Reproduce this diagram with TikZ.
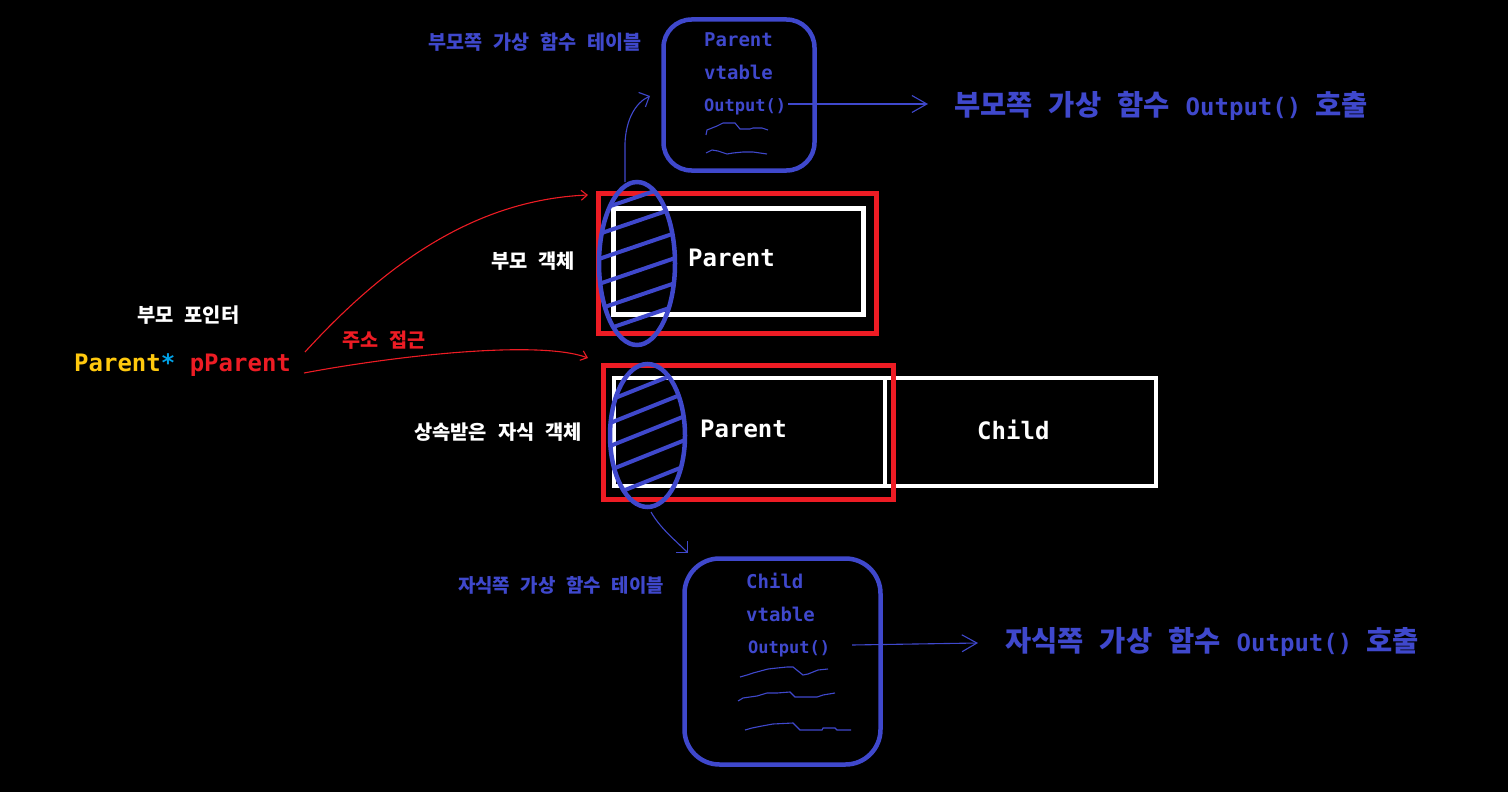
\documentclass[tikz,border=0pt]{standalone}
\usepackage{fontspec}
\usetikzlibrary{arrows.meta}
\newfontfamily\kr[WordSpace=2.45]{Noto Sans CJK KR}
\newfontfamily\mn{DejaVu Sans Mono}
\definecolor{vblue}{HTML}{3F48CC}
\definecolor{vred}{HTML}{ED1C24}
\definecolor{vyellow}{HTML}{FFC90E}
\definecolor{vcyan}{HTML}{00A2E8}
\newcommand{\fsz}[1]{\fontsize{#1}{#1}\selectfont\bfseries}
\begin{document}
\begin{tikzpicture}[x=1pt,y=-1pt,
  txt/.style={inner sep=0pt, anchor=base west},
  vtbox/.style={draw=vblue, line width=4.5pt, inner sep=0pt},
  redbox/.style={draw=vred, line width=4.5pt, inner sep=0pt},
  whitebox/.style={draw=white, line width=4.5pt, inner sep=0pt},
  ovl/.style={draw=vblue, line width=4.5pt},
  hatch/.style={draw=vblue, line width=4pt},
  thinblue/.style={draw=vblue, line width=1.1pt},
  thinred/.style={draw=vred, line width=1.1pt},
  bigbarb/.style={-{Straight Barb[length=15pt,width=17pt]}},
  smallbarb/.style={-{Straight Barb[length=8pt,width=16pt]}},
  redbarb/.style={-{Straight Barb[length=6pt,width=10pt]}}
]
\fill[black] (0,0) rectangle (1508,792);
\useasboundingbox (0,0) rectangle (1508,792);

% vtable boxes
\node[vtbox, rounded corners=28pt, minimum width=151pt, minimum height=151pt] (vt1) at (739,95) {};
\node[vtbox, rounded corners=35pt, minimum width=196pt, minimum height=206pt] (vt2) at (782.5,661.5) {};

% objects
\node[whitebox, minimum width=250pt, minimum height=106pt] (wb1) at (738.5,261.5) {};
\node[redbox, minimum width=278pt, minimum height=140pt] (rb1) at (737.5,263.5) {};
\node[whitebox, minimum width=542pt, minimum height=108pt] (wb2) at (885,432) {};
\draw[white, line width=4.5pt] (wb2.north) -- (wb2.south);
\node[redbox, minimum width=290pt, minimum height=134pt] (rb2) at (748.5,432.5) {};

% hatched ellipses
\coordinate (e1) at (637,263.5);
\coordinate (e2) at (647.5,435.5);
\begin{scope}
  \clip (e1) ellipse [x radius=38, y radius=81.5];
  \foreach \yy in {197,221,246,271,296,319}
    \draw[hatch] (577,\yy+20.4) -- (697,\yy-20.4);
\end{scope}
\draw[ovl] (e1) ellipse [x radius=38, y radius=81.5];
\begin{scope}
  \clip (e2) ellipse [x radius=37.5, y radius=71.5];
  \foreach \yy in {385,408,431,455,481}
    \draw[hatch] (587.5,\yy+24) -- (707.5,\yy-24);
\end{scope}
\draw[ovl] (e2) ellipse [x radius=37.5, y radius=71.5];

% texts
\node[txt, text=vblue] (lbl1) at (428,50) {\kr\fsz{19.6}부모쪽 가상 함수 테이블};
\node[txt, text=vblue] (p1) at (704,47) {\mn\fsz{19}Parent};
\node[txt, text=vblue] (v1) at (704,80) {\mn\fsz{19}vtable};
\node[txt, text=vblue] (o1) at (704,111) {\mn\fsz{17}Output()};
\node[txt, text=vblue] (call1) at (954,115) {{\kr\fsz{28.5}부모쪽 가상 함수 }{\mn\fsz{24}Output() }{\kr\fsz{28.5}호출}};

\node[txt, text=white] (objlbl1) at (491,268) {\kr\fsz{19.8}부모 객체};
\node[txt, text=white] (par1) at (688,266) {\mn\fsz{24}Parent};
\node[txt, text=white] (ptrlbl) at (137,322) {\kr\fsz{19.8}부모 포인터};
\node[txt] (ptr) at (74,371) {\mn\fsz{24}\textcolor{vyellow}{Parent}\textcolor{vcyan}{*} \textcolor{vred}{pParent}};
\node[txt, text=vred] (addr) at (342,347) {\kr\fsz{19.6}주소 접근};
\node[txt, text=white] (objlbl2) at (414,439) {\kr\fsz{19.8}상속받은 자식 객체};
\node[txt, text=white] (par2) at (700,437) {\mn\fsz{24}Parent};
\node[txt, text=white] (chd) at (977,439) {\mn\fsz{24}Child};

\node[txt, text=vblue] (lbl2) at (458,592) {\kr\fsz{18.9}자식쪽 가상 함수 테이블};
\node[txt, text=vblue] (c2) at (746,588) {\mn\fsz{19}Child};
\node[txt, text=vblue] (v2) at (746,621) {\mn\fsz{19}vtable};
\node[txt, text=vblue] (o2) at (748,653) {\mn\fsz{17}Output()};
\node[txt, text=vblue] (call2) at (1005,651) {{\kr\fsz{28.5}자식쪽 가상 함수 }{\mn\fsz{24}Output() }{\kr\fsz{28.5}호출}};

% output arrows
\coordinate (o1e) at (788,104);
\coordinate (t1) at (928,104);
\coordinate (o2e) at (852,645);
\coordinate (t2) at (978,643);
\draw[thinblue, bigbarb] (o1e) -- (t1);
\draw[thinblue, bigbarb] (o2e) -- (t2);

% squiggles
\draw[thinblue] (706,135) -- (707,130) -- (717,126) -- (723,123) -- (735,123) -- (740,129) -- (750,129) -- (753,128) -- (762,128) -- (768,130);
\draw[thinblue] (706,153) -- (712,150) -- (718,151) -- (727,154) -- (733,153) -- (743,152) -- (753,152) -- (767,154);
\draw[thinblue] (740,677) -- (747,675) -- (753,673) -- (768,669) -- (777,668) -- (787,667) -- (793,667) -- (798,671) -- (803,675) -- (808,674) -- (818,670) -- (828,669);
\draw[thinblue] (738,701) -- (743,698) -- (757,696) -- (767,693) -- (777,693) -- (790,692) -- (795,697) -- (817,697) -- (823,695) -- (835,693);
\draw[thinblue] (745,730) -- (752,728) -- (762,726) -- (773,724) -- (793,723) -- (800,730) -- (822,730) -- (823,728) -- (835,728) -- (837,730) -- (851,730);

% ellipse to vtable connectors
\coordinate (e1top) at (625,182);
\coordinate (e1mid) at (625,143);
\coordinate (vt1in) at (650,96);
\draw[thinblue, smallbarb] (e1top) -- (e1mid) .. controls (626,120) and (635,103) .. (vt1in);
\coordinate (e2bot) at (651,512);
\coordinate (vt2in) at (688,553);
\draw[thinblue, smallbarb] (e2bot) .. controls (660,528) and (675,540) .. (vt2in);

% pointer connectors
\coordinate (ps1) at (305,352);
\coordinate (pe1) at (588,195);
\coordinate (ps2) at (304,373);
\coordinate (pe2) at (588,358);
\draw[thinred, redbarb] (ps1) .. controls (380,270) and (470,200) .. (pe1);
\draw[thinred, redbarb] (ps2) .. controls (400,355) and (540,340) .. (pe2);
\end{tikzpicture}
\end{document}
